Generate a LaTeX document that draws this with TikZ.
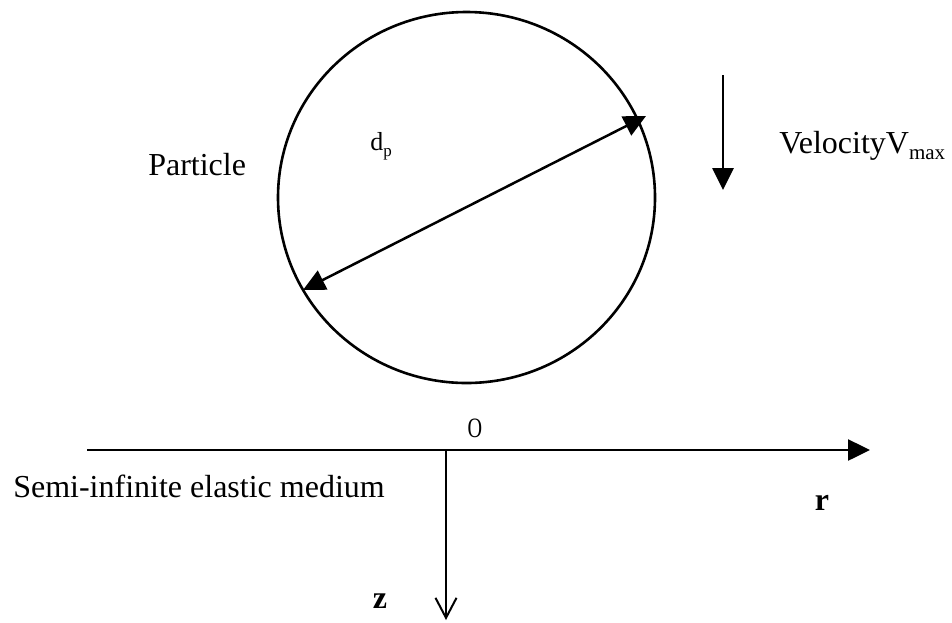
\documentclass[tikz,border=0pt]{standalone}
\usepackage{fontspec}
\usepackage{graphicx}
\setmainfont{Liberation Serif}
\newfontfamily\sansf{Liberation Sans}
\usetikzlibrary{arrows.meta,shapes.geometric}
\begin{document}
\begin{tikzpicture}[x=1pt,y=-1pt,line width=2.5pt,
  lbl/.style={inner sep=0pt,anchor=base west,font=\fontsize{32}{38}\selectfont},
  fillhead/.style={-{Triangle[length=22pt,width=21pt]}},
  bothheads/.style={{Triangle[length=22pt,width=21pt]}-{Triangle[length=22pt,width=21pt]}},
  barbhead/.style={-{Straight Barb[length=20pt,width=21pt,line width=2pt]}}]
\useasboundingbox (0,0) rectangle (952,622);
% particle
\node (particle) [draw,ellipse,minimum width=377pt,minimum height=371pt,inner sep=0pt,line width=2.6pt] at (466.5,197.5) {};
\coordinate (dA) at (303,290);
\coordinate (dB) at (646,116);
\draw[bothheads] (dA) -- (dB);
\node[inner sep=0pt,anchor=base west] (dp) at (369,150) {\fontsize{26}{30}\selectfont d\raisebox{-6pt}{\fontsize{17}{17}\selectfont p}};
\node[lbl] (plabel) at (147,175) {Particle};
% velocity
\coordinate (vtop) at (723,75);
\coordinate (vbot) at (723,190);
\draw[fillhead,line width=2.8pt] (vtop) -- (vbot);
\node[lbl] (vel) at (778,153) {VelocityV\raisebox{-6pt}{\fontsize{21}{21}\selectfont max}};
% axes
\coordinate (rstart) at (87,450);
\coordinate (rend) at (870,450);
\coordinate (origin) at (446,450);
\coordinate (zend) at (446,620);
\draw[fillhead] (rstart) -- (rend);
\draw[barbhead,line width=2pt] (origin) -- (zend);
\node[inner sep=0pt,anchor=base] (olabel) at (475,437) {\fontsize{28}{32}\selectfont\scalebox{0.72}[1]{O}};
\node[lbl] (medium) at (12,497) {Semi-infinite elastic medium};
\node[lbl,anchor=base] (rlabel) at (822,510) {\bfseries r};
\node[lbl,anchor=base] (zlabel) at (380,608) {\bfseries z};
\end{tikzpicture}
\end{document}
